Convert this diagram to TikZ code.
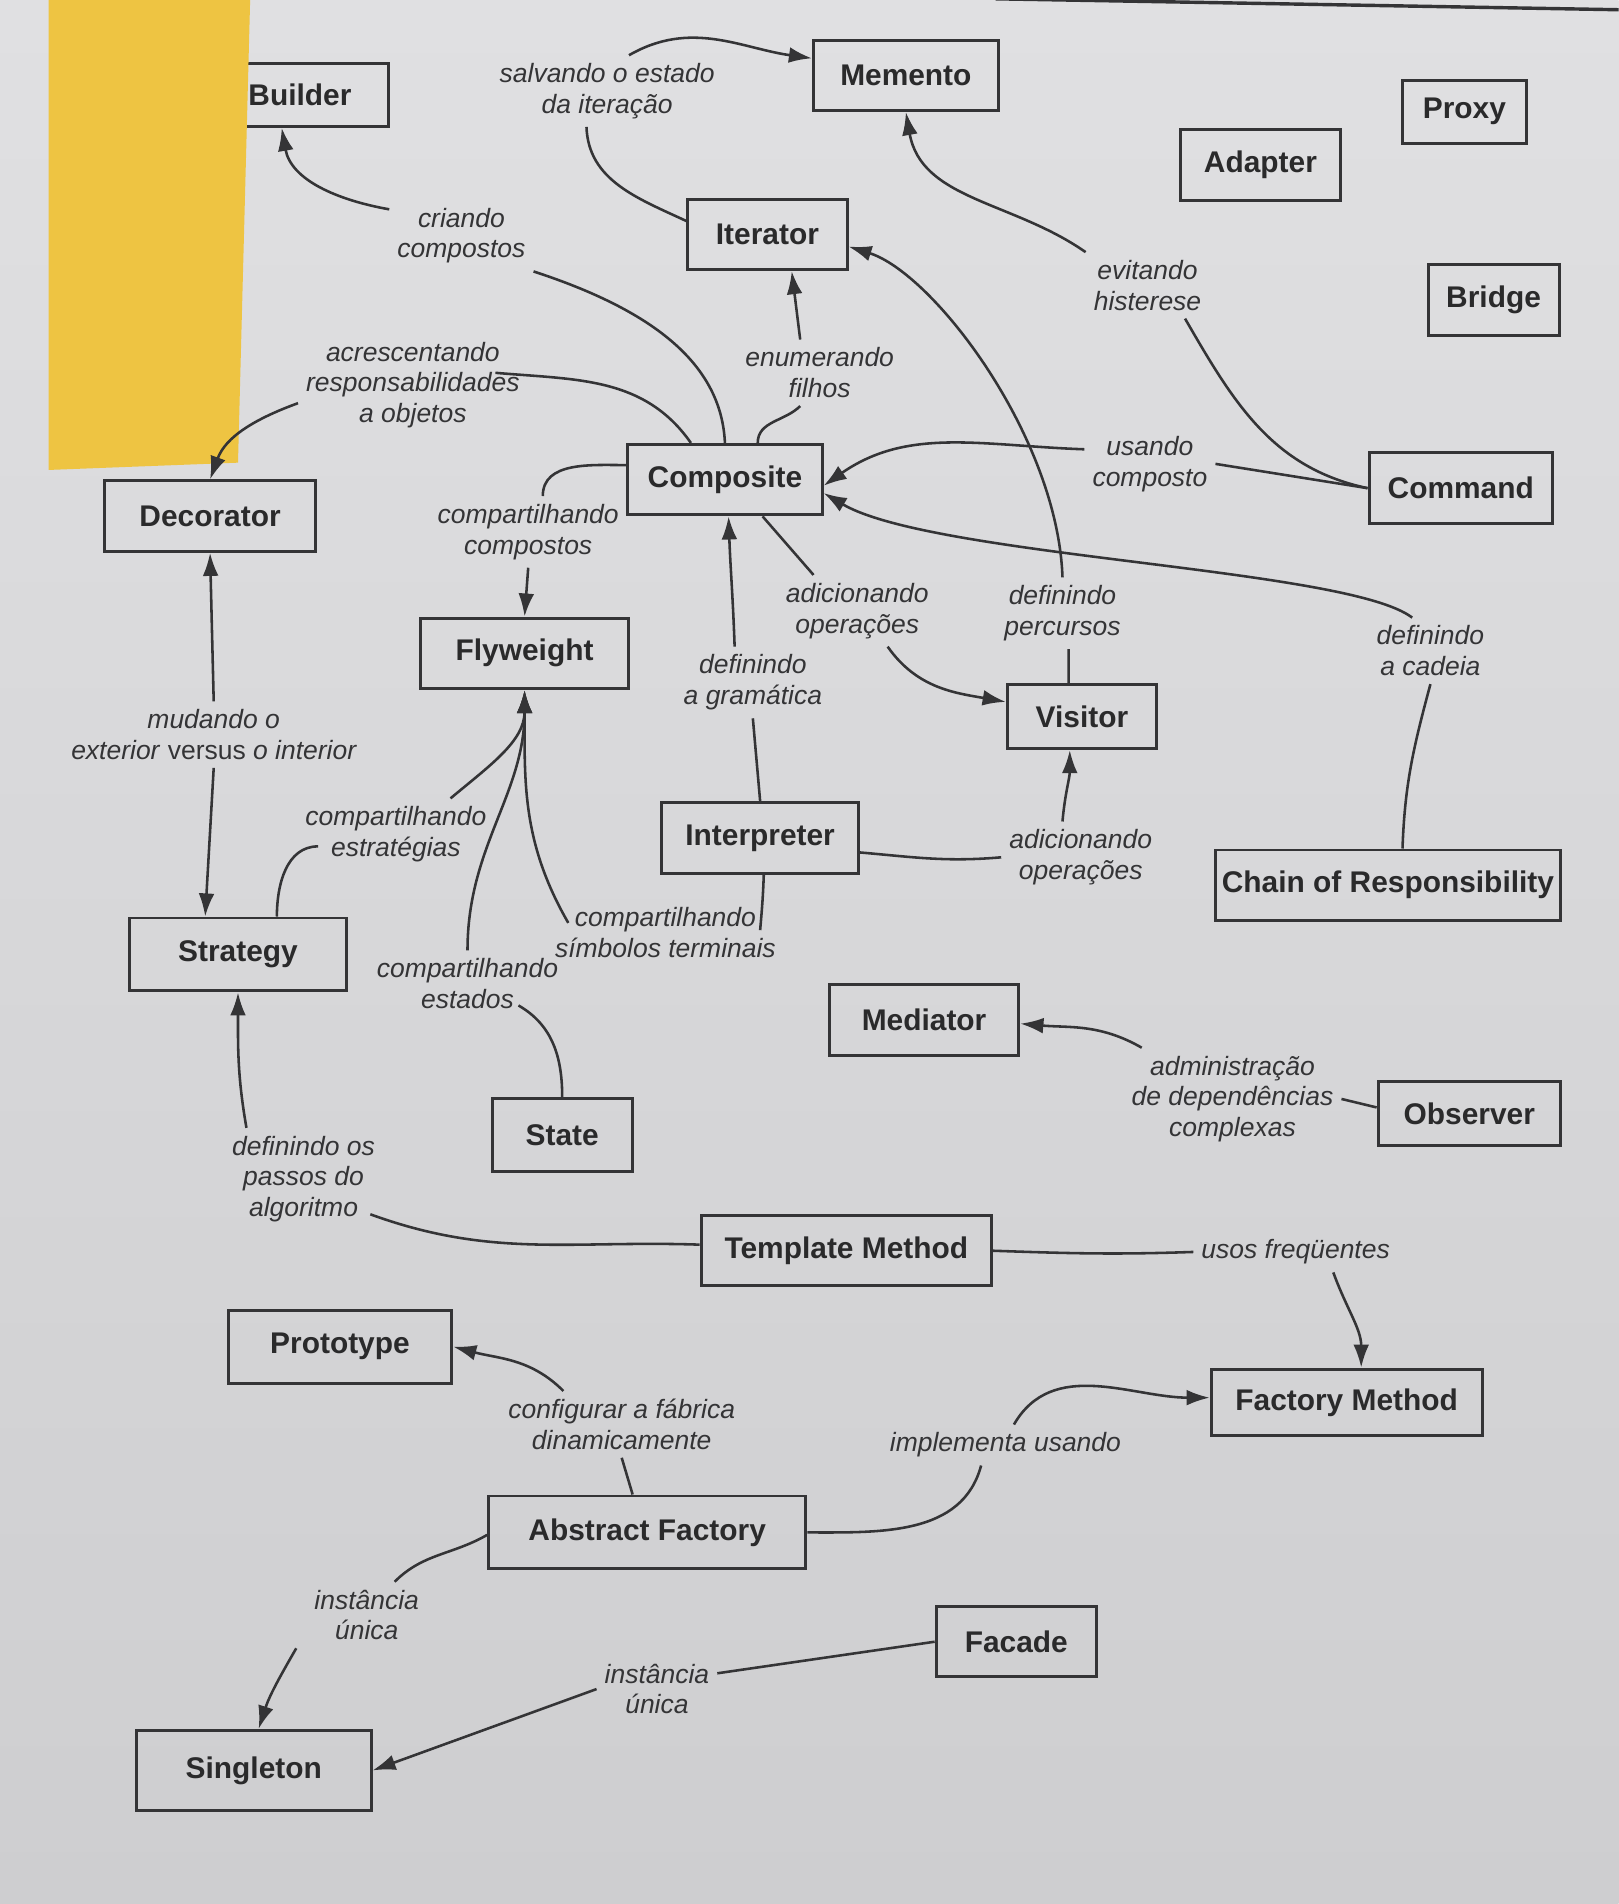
\documentclass[tikz,border=0pt]{standalone}
\usepackage{fontspec}
\setmainfont{Liberation Sans}
\usetikzlibrary{arrows.meta,positioning}
\definecolor{paper}{RGB}{224,224,226}
\definecolor{paperdk}{RGB}{206,206,208}
\definecolor{ink}{RGB}{52,52,54}
\definecolor{postit}{RGB}{238,196,66}
\tikzset{%
  patbox/.style = {shape=rectangle, draw=ink, line width=0.7pt,%
                   text=ink!80!black, font=\fontsize{7}{8.4}\selectfont\bfseries,%
                   minimum height=5.8mm, inner xsep=1.5mm},%
  lbl/.style    = {align=center, text=ink, inner sep=0.6mm,%
                   font=\fontsize{6.2}{7.2}\selectfont\itshape},%
  link/.style   = {draw=ink, line width=0.6pt}%
}
\begin{document}
\begin{tikzpicture}[x=0.01cm, y=-0.01cm, >={Latex[length=1.9mm,width=1.3mm]}]
  % -------------- page, header rule, sticky note --------------
  \useasboundingbox (0,0) rectangle (1333,1568);
  \shade[top color=paper, bottom color=paperdk] (0,0) rectangle (1333,1568);
  \draw[ink, line width=0.8pt] (820,-1) -- (1333,8);
  \node[patbox, minimum width=14.5mm, minimum height=5.2mm] (Bld) at (247,78) {Builder};
  \fill[postit] (40,0) -- (206,0) -- (196,381) -- (40,387) -- cycle;
  % -------------- pattern boxes --------------
  \node[patbox, minimum width=15.2mm] (Mem) at (746,62) {Memento};
  \node[patbox, minimum width=10.2mm, minimum height=5.2mm] (Prx) at (1206,92) {Proxy};
  \node[patbox, minimum width=13.1mm] (Adp) at (1038,136) {Adapter};
  \node[patbox, minimum width=10mm] (Brg) at (1230,247) {Bridge};
  \node[patbox, minimum width=13.1mm] (Itr) at (632,193) {Iterator};
  \node[patbox, minimum width=16mm] (Cmp) at (597,395) {Composite};
  \node[patbox, minimum width=15.1mm] (Cmd) at (1203,402) {Command};
  \node[patbox, minimum width=17.3mm] (Dec) at (173,425) {Decorator};
  \node[patbox, minimum width=17.1mm] (Fly) at (432,538) {Flyweight};
  \node[patbox, minimum width=12.3mm, minimum height=5.3mm] (Vis) at (891,590) {Visitor};
  \node[patbox, minimum width=16.2mm] (Int) at (626,690) {Interpreter};
  \node[patbox, minimum width=27.3mm, inner xsep=0.5mm] (CoR) at (1143,729) {Chain of Responsibility};
  \node[patbox, minimum width=17.8mm, minimum height=6mm] (Str) at (196,786) {Strategy};
  \node[patbox, minimum width=15.6mm] (Med) at (761,840) {Mediator};
  \node[patbox, minimum width=11.5mm, minimum height=6mm] (Sta) at (463,935) {State};
  \node[patbox, minimum width=15mm, minimum height=5.3mm] (Obs) at (1210,917) {Observer};
  \node[patbox, minimum width=23.9mm] (TM) at (697,1030) {Template Method};
  \node[patbox, minimum width=18.4mm, minimum height=6mm] (Pro) at (280,1109) {Prototype};
  \node[patbox, minimum width=22.3mm, minimum height=5.5mm] (FM) at (1109,1155) {Factory Method};
  \node[patbox, minimum width=26.1mm, minimum height=6mm] (AF) at (533,1262) {Abstract Factory};
  \node[patbox, minimum width=13.2mm] (Fac) at (837,1352) {Facade};
  \node[patbox, minimum width=19.3mm, minimum height=6.6mm] (Sng) at (209,1458) {Singleton};
  % -------------- relation labels --------------
  \node[lbl] (lCria) at (380,194) {criando\\compostos};
  \node[lbl] (lSalv) at (500,75) {salvando o estado\\da iteração};
  \node[lbl] (lEnum) at (675,307) {enumerando\\filhos};
  \node[lbl] (lAcre) at (340,317) {acrescentando\\responsabilidades\\a objetos};
  \node[lbl] (lEvit) at (945,235) {evitando\\histerese};
  \node[lbl] (lUsa) at (947,382) {usando\\composto};
  \node[lbl] (lCmpC) at (435,438) {compartilhando\\compostos};
  \node[lbl] (lAdi) at (706,503) {adicionando\\operações};
  \node[lbl] (lPerc) at (875,505) {definindo\\percursos};
  \node[lbl] (lCad) at (1178,536) {definindo\\a cadeia};
  \node[lbl] (lGram) at (620,562) {definindo\\a gramática};
  \node[lbl] (lMud) at (176,605) {mudando o\\exterior \textup{versus} o interior};
  \node[lbl] (lEstr) at (326,687) {compartilhando\\estratégias};
  \node[lbl] (lAdi2) at (890,706) {adicionando\\operações};
  \node[lbl] (lSimb) at (548,768) {compartilhando\\símbolos terminais};
  \node[lbl] (lEsta) at (385,810) {compartilhando\\estados};
  \node[lbl] (lAdm) at (1015,905) {administração\\de dependências\\complexas};
  \node[lbl] (lPass) at (250,971) {definindo os\\passos do\\algoritmo};
  \node[lbl] (lUsos) at (1067,1031) {usos freqüentes};
  \node[lbl] (lConf) at (512,1173) {configurar a fábrica\\dinamicamente};
  \node[lbl] (lImpl) at (828,1190) {implementa usando};
  \node[lbl] (lIns1) at (302,1330) {instância\\única};
  \node[lbl] (lIns2) at (541,1391) {instância\\única};
  % -------------- connectors, upper half --------------
  \draw[link] (Cmp.north) .. controls +(-3,-67) and +(95,31) .. (lCria.south east);
  \draw[link,->] (lCria.160) to[out=170,in=-80] ([xshift=-1.5mm]Bld.south);
  \draw[link] ([yshift=1.1mm]Itr.west) to[out=155,in=-88] ([xshift=-1.7mm]lSalv.south);
  \draw[link,->] ([xshift=1.8mm]lSalv.north) to[out=30,in=172] ([yshift=1.4mm]Mem.west);
  \draw[link] ([xshift=2.7mm]Cmp.north) to[out=90,in=-135] ([xshift=-1.6mm]lEnum.south);
  \draw[link,->] ([xshift=-1.6mm]lEnum.north) -- ([xshift=2mm]Itr.south);
  \draw[link] ([xshift=-2.8mm]Cmp.north) to[out=125,in=-5] ([shift={(68,-10)}]lAcre.center);
  \draw[link,->] ([yshift=-1.5mm]lAcre.west) to[out=200,in=70] (Dec.north);
  \draw[link,->] (lEvit.north west) to[out=145,in=-80] (Mem.south);
  \draw[link] (Cmd.west) to[out=168,in=-60] ([xshift=-2mm]lEvit.south east);
  \draw[link] (Cmd.west) -- (lUsa.east);
  \draw[link,->] ([yshift=1.2mm]lUsa.west) to[out=178,in=35] ([yshift=-0.5mm]Cmp.east);
  \draw[link] ([xshift=1.2mm]CoR.north) to[out=88,in=-105] (lCad.south);
  \draw[link,->] ([xshift=-1.5mm]lCad.north) .. controls +(-53,-41) and +(90,53) .. ([yshift=-1.1mm]Cmp.east);
  \draw[link] ([xshift=-1.1mm]Vis.north) -- ([xshift=0.5mm]lPerc.south);
  \draw[link,->] (lPerc.north) .. controls +(-4,-116) and +(70,22) .. ([yshift=-1mm]Itr.east);
  \draw[link] ([xshift=3.1mm]Cmp.south) -- ([xshift=-3.6mm]lAdi.north);
  \draw[link,->] ([xshift=2.5mm]lAdi.south) to[out=-55,in=170] ([yshift=1.2mm]Vis.west);
  \draw[link] (Int.north) to[out=95,in=-85] (lGram.south);
  \draw[link,->] ([xshift=-1.5mm]lGram.north) to[out=92,in=-88] ([xshift=0.3mm]Cmp.south);
  \draw[link] ([yshift=1.2mm]Cmp.west) to[out=180,in=90] ([xshift=1.2mm]lCmpC.north);
  \draw[link,->] (lCmpC.south) -- (Fly.north);
  % -------------- connectors, middle --------------
  \draw[link,->] (lMud.north) -- (Dec.south);
  \draw[link,->] (lMud.south) -- ([xshift=-2.7mm]Str.north);
  \draw[link,->] ([xshift=4.5mm]lEstr.north) to[out=40,in=-90] (Fly.south);
  \draw[link] ([xshift=3.2mm]Str.north) to[out=90,in=180] ([shift={(-64,10)}]lEstr.center);
  \draw[link,->] (lEsta.north) to[out=90,in=-90] (Fly.south);
  \draw[link,->] ([shift={(-80,-8)}]lSimb.center) to[out=120,in=-90] (Fly.south);
  \draw[link] ([xshift=0.3mm]Int.south) to[out=-92,in=85] ([shift={(78,-2)}]lSimb.center);
  \draw[link] ([shift={(42,18)}]lEsta.center) to[out=-30,in=90] (Sta.north);
  \draw[link] ([yshift=-1.2mm]Int.east) to[out=-5,in=185] (lAdi2.west);
  \draw[link,->] ([xshift=-1.5mm]lAdi2.north) to[out=85,in=-90] ([xshift=-1mm]Vis.south);
  \draw[link] ([yshift=0.5mm]Obs.west) -- (lAdm.east);
  \draw[link,->] ([xshift=1.5mm]lAdm.north west) to[out=150,in=-5] ([yshift=-0.3mm]Med.east);
  % -------------- connectors, lower half --------------
  \draw[link,->] ([xshift=-4.7mm]lPass.north) to[out=100,in=-90] (Str.south);
  \draw[link] ([yshift=0.5mm]TM.west) to[out=178,in=-20] ([shift={(55,29)}]lPass.center);
  \draw[link] (TM.east) to[out=-2,in=182] (lUsos.west);
  \draw[link,->] ([xshift=3.1mm]lUsos.south) to[out=-70,in=90] ([xshift=1.2mm]FM.north);
  \draw[link] ([xshift=-1.2mm]AF.north) -- (lConf.south);
  \draw[link,->] ([xshift=-4.8mm]lConf.north) to[out=135,in=-15] (Pro.east);
  \draw[link] (AF.east) to[out=0,in=-105] ([xshift=-2mm]lImpl.south);
  \draw[link,->] ([xshift=0.7mm]lImpl.north) to[out=60,in=180] ([yshift=0.4mm]FM.west);
  \draw[link] ([yshift=-0.2mm]AF.west) to[out=210,in=45] ([xshift=2.3mm]lIns1.north);
  \draw[link,->] ([xshift=-5.8mm]lIns1.south) to[out=-120,in=72] ([xshift=0.4mm]Sng.north);
  \draw[link] (Fac.west) -- ([yshift=1.3mm]lIns2.east);
  \draw[link,->] (lIns2.west) -- (Sng.east);
\end{tikzpicture}
\end{document}
